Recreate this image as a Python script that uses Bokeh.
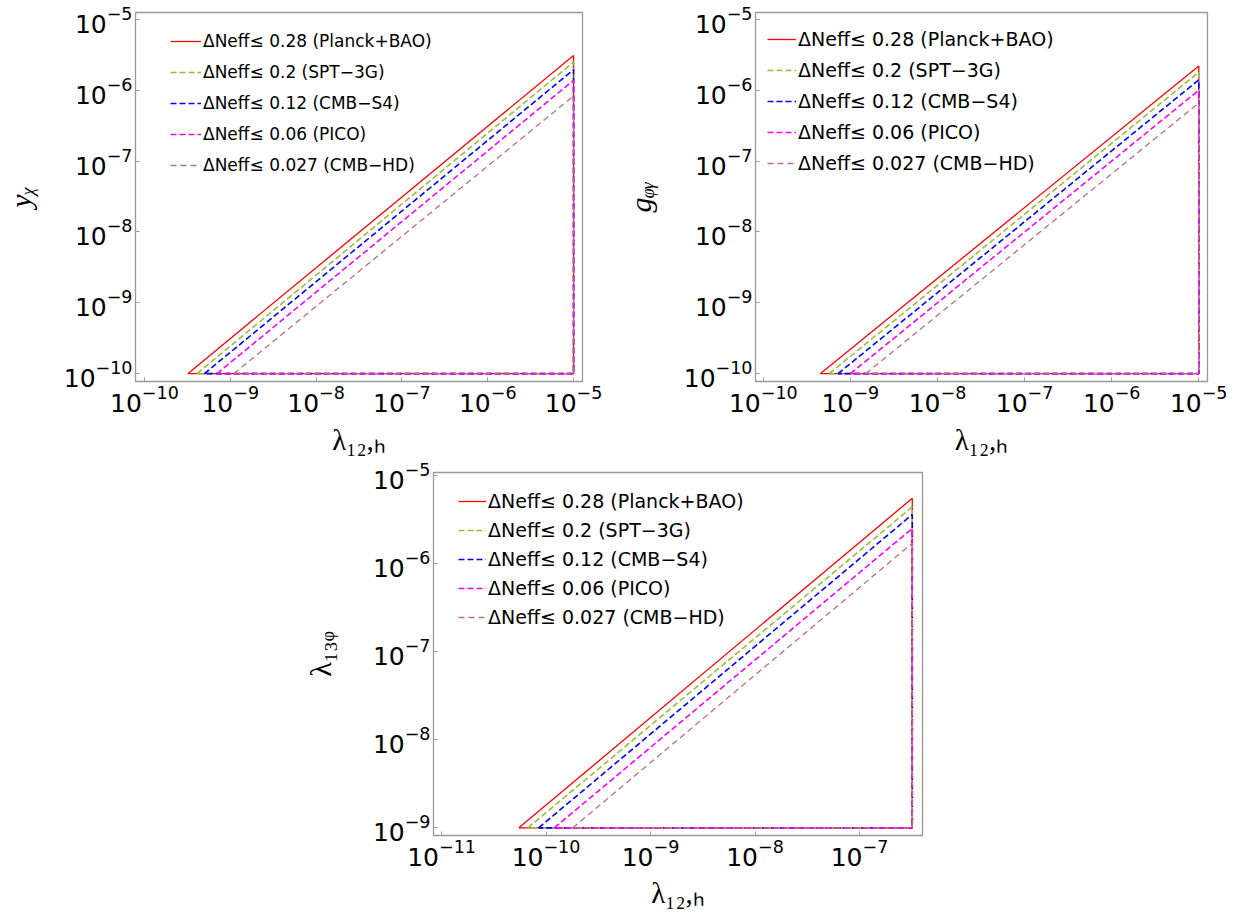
from bokeh.plotting import figure
from bokeh.models import Legend, LegendItem, FixedTicker, Range1d, Spacer
from bokeh.layouts import row, column
from bokeh.embed import file_html
from bokeh.resources import INLINE

# ---------------- data ----------------
series_labels = ["ΔNeff≤ 0.28 (Planck+BAO)", "ΔNeff≤ 0.2 (SPT−3G)",
                 "ΔNeff≤ 0.12 (CMB−S4)", "ΔNeff≤ 0.06 (PICO)",
                 "ΔNeff≤ 0.027 (CMB−HD)"]

# panel 1: y_chi vs lambda_12,H
p1_x_start = [3.2e-10, 4.1e-10, 5.0e-10, 7.0e-10, 1.1e-9]
p1_y_end = [3.1e-6, 2.5e-6, 1.95e-6, 1.38e-6, 8.3e-7]
p1_x_max = 1e-5
p1_y_min = 1e-10
p1_xticks = [1e-10, 1e-9, 1e-8, 1e-7, 1e-6, 1e-5]
p1_yticks = [1e-10, 1e-9, 1e-8, 1e-7, 1e-6, 1e-5]

# panel 2: g_phi-gamma vs lambda_12,H
p2_x_start = [4.5e-10, 5.7e-10, 7.2e-10, 1.0e-9, 1.5e-9]
p2_y_end = [2.2e-6, 1.8e-6, 1.4e-6, 1.0e-6, 6.6e-7]
p2_x_max = 1e-5
p2_y_min = 1e-10
p2_xticks = [1e-10, 1e-9, 1e-8, 1e-7, 1e-6, 1e-5]
p2_yticks = [1e-10, 1e-9, 1e-8, 1e-7, 1e-6, 1e-5]

# panel 3: lambda_13phi vs lambda_12,H
p3_x_start = [5.5e-11, 6.7e-11, 8.5e-11, 1.2e-10, 1.8e-10]
p3_y_end = [5.5e-6, 4.4e-6, 3.6e-6, 2.5e-6, 1.7e-6]
p3_x_max = 3.2e-7
p3_y_min = 1e-9
p3_xticks = [1e-11, 1e-10, 1e-9, 1e-8, 1e-7]
p3_yticks = [1e-9, 1e-8, 1e-7, 1e-6, 1e-5]

x_title = "λ₁₂,ₕ"
y_titles = ["yᵪ", "gᵩᵧ", "λ₁₃ᵩ"]

# ---------------- styles ----------------
colors = ["#FF0000", "#9DBB3A", "#0000FF", "#FF00FF", "#C46A88"]
dashes = ["solid", "6 3", "6 3", "6 3", "6 4"]
widths = [1.3, 1.6, 1.6, 1.6, 1.3]

TICK_FONT = "DejaVu Sans"
SERIF = "Liberation Serif"
FRAME_COLOR = "#999999"


def make_panel(x_start, y_end, x_max, y_min, xr, yr, xticks, yticks,
               width, height, borders, legend_loc, legend_font, legend_spacing,
               glyph_w, y_title, y_style, y_standoff, x_standoff):
    left, right, top, bottom = borders
    p = figure(width=width, height=height, x_axis_type="log", y_axis_type="log",
               x_range=Range1d(10 ** xr[0], 10 ** xr[1]),
               y_range=Range1d(10 ** yr[0], 10 ** yr[1]),
               output_backend="svg", toolbar_location=None,
               min_border_left=left, min_border_right=right,
               min_border_top=top, min_border_bottom=bottom)
    p.grid.visible = False
    p.outline_line_color = FRAME_COLOR
    p.outline_line_width = 1.3
    p.background_fill_color = "white"
    p.border_fill_color = "white"
    p.xaxis.ticker = FixedTicker(ticks=xticks)
    p.yaxis.ticker = FixedTicker(ticks=yticks)
    for ax in (p.xaxis[0], p.yaxis[0]):
        ax.axis_line_color = None
        ax.major_tick_line_color = FRAME_COLOR
        ax.major_tick_in = 4
        ax.major_tick_out = 0
        ax.minor_tick_line_color = None
        ax.major_label_text_font = TICK_FONT
        ax.major_label_text_font_size = "25px"
        ax.major_label_text_color = "black"
        ax.major_label_standoff = 3
        ax.axis_label_text_font = SERIF
        ax.axis_label_text_color = "black"
    p.xaxis.axis_label = x_title
    p.xaxis.axis_label_text_font_size = "29px"
    p.xaxis.axis_label_text_font_style = "normal"
    p.xaxis.axis_label_standoff = x_standoff
    p.yaxis.axis_label = y_title
    p.yaxis.axis_label_text_font_size = "30px"
    p.yaxis.axis_label_text_font_style = y_style
    p.yaxis.axis_label_standoff = y_standoff
    items = []
    for i in range(len(x_start)):
        r = p.line(x=[x_start[i], x_max, x_max, x_start[i]],
                   y=[y_min, y_end[i], y_min, y_min],
                   line_color=colors[i], line_dash=dashes[i], line_width=widths[i])
        items.append(LegendItem(label=series_labels[i], renderers=[r]))
    leg = Legend(items=items, location=legend_loc, padding=0, margin=0,
                 spacing=legend_spacing, label_height=24, glyph_height=24,
                 glyph_width=glyph_w, label_standoff=2,
                 label_text_font=TICK_FONT, label_text_font_size=legend_font,
                 label_text_color="black",
                 background_fill_alpha=0, border_line_alpha=0)
    p.add_layout(leg)
    return p


p1 = make_panel(p1_x_start, p1_y_end, p1_x_max, p1_y_min,
                (-10.104, -4.896), (-10.111, -4.903), p1_xticks, p1_yticks,
                620, 458, (132, 38, 11, 71), (35, 204), "17px", 7, 31,
                y_titles[0], "italic", 24, 9)
p2 = make_panel(p2_x_start, p2_y_end, p2_x_max, p2_y_min,
                (-10.09, -4.90), (-10.111, -4.903), p2_xticks, p2_yticks,
                607, 458, (135, 20, 12, 71), (12, 206), "19px", 7, 29,
                y_titles[1], "italic", 24, 9)
p3 = make_panel(p3_x_start, p3_y_end, p3_x_max, p3_y_min,
                (-11.077, -6.397), (-9.087, -4.967), p3_xticks, p3_yticks,
                642, 453, (133, 20, 14, 67), (25, 206), "19px", 5, 28,
                y_titles[2], "normal", 33, 8)

layout = column(row(p1, p2), row(Spacer(width=300, height=453), p3))
open("out.html", "w").write(file_html(layout, INLINE))
